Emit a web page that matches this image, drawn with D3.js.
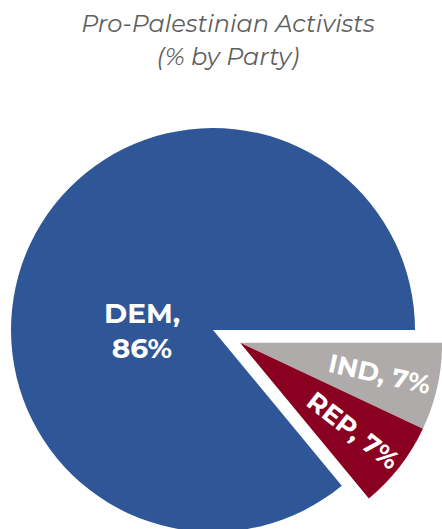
<!DOCTYPE html>
<html>
<head>
<meta charset="utf-8">
<script src="https://cdn.jsdelivr.net/npm/d3@7"></script>
<style>
  html, body { margin: 0; padding: 0; background: #ffffff; }
  svg { display: block; }
</style>
</head>
<body>
<svg id="chart" width="442" height="529"></svg>
<script>
// ---- data ----
const parties = ["IND", "REP", "DEM"];
const shares = [7, 7, 86];
const titleLines = ["Pro-Palestinian Activists", "(% by Party)"];

const colors = { IND: "#afabaa", REP: "#890020", DEM: "#2f5697" };

const svg = d3.select("#chart");
const W = 442, H = 529;
const cx = 213, cy = 330, R = 202;
const explode = 30;

// title
svg.append("g").selectAll("text")
  .data(titleLines)
  .enter().append("text")
  .attr("x", 228)
  .attr("y", (d, i) => 32 + i * 33)
  .attr("text-anchor", "middle")
  .attr("font-family", "Montserrat, Lato, 'Open Sans', sans-serif")
  .attr("font-style", "italic")
  .attr("font-weight", 400)
  .attr("font-size", 24)
  .attr("fill", "#5e5e5e")
  .text(d => d);

const data = parties.map((p, i) => ({ party: p, value: shares[i] }));
const pie = d3.pie().sort(null).value(d => d.value)
  .startAngle(Math.PI / 2).endAngle(Math.PI / 2 + 2 * Math.PI);
const arcs = pie(data);
const arc = d3.arc().innerRadius(0).outerRadius(R);

// exploded group: IND + REP
const small = arcs.filter(a => a.data.party !== "DEM");
const s0 = d3.min(small, a => a.startAngle), s1 = d3.max(small, a => a.endAngle);
const mid = (s0 + s1) / 2;
const ox = Math.sin(mid) * explode, oy = -Math.cos(mid) * explode;

const g = svg.append("g").attr("transform", `translate(${cx},${cy})`);

arcs.forEach(a => {
  const isOut = a.data.party !== "DEM";
  g.append("path")
    .attr("d", arc(a))
    .attr("fill", colors[a.data.party])
    .attr("transform", isOut ? `translate(${ox},${oy})` : null);
});

// labels
const fontFam = "Montserrat, 'Open Sans', sans-serif";
arcs.forEach(a => {
  if (a.data.party === "DEM") {
    const t = g.append("text")
      .attr("text-anchor", "middle")
      .attr("font-family", fontFam)
      .attr("font-weight", 700)
      .attr("font-size", 28)
      .attr("fill", "#ffffff");
    t.append("tspan").attr("x", -71).attr("y", -7).text(a.data.party + ",");
    t.append("tspan").attr("x", -71).attr("y", 28).text(a.data.value + "%");
  } else {
    const m = (a.startAngle + a.endAngle) / 2;
    const rl = 143;
    const lx = ox + Math.sin(m) * rl, ly = oy - Math.cos(m) * rl;
    const deg = m * 180 / Math.PI - 90;
    g.append("text")
      .attr("transform", `translate(${lx},${ly}) rotate(${deg})`)
      .attr("text-anchor", "middle")
      .attr("dy", "0.35em")
      .attr("font-family", fontFam)
      .attr("font-weight", 700)
      .attr("font-size", 26)
      .attr("fill", "#ffffff")
      .text(a.data.party + ", " + a.data.value + "%");
  }
});
</script>
</body>
</html>
